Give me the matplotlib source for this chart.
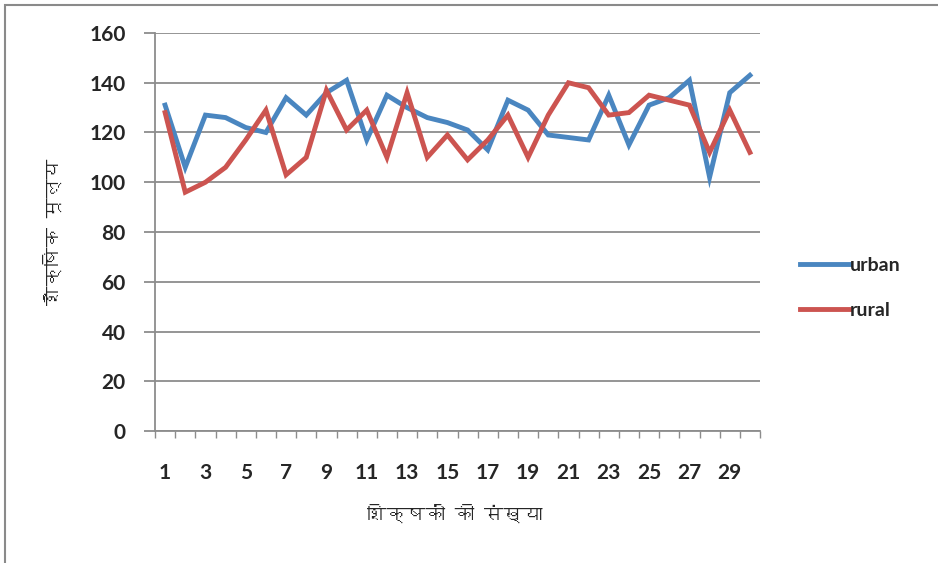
import numpy as np
import matplotlib
matplotlib.use("Agg")
import matplotlib.pyplot as plt
from matplotlib import font_manager
from matplotlib.ft2font import FT2Font
from matplotlib.patches import Rectangle
from matplotlib.lines import Line2D

teachers = list(range(1, 31))
urban = [131, 106, 127, 126, 122, 120, 134, 127, 136, 141,
         117, 135, 130, 126, 124, 121, 113, 133, 129, 119,
         118, 117, 135, 115, 131, 134, 141, 102, 136, 143]
rural = [128, 96, 100, 106, 117, 129, 103, 110, 137, 121,
         129, 110, 136, 110, 119, 109, 117, 127, 110, 127,
         140, 138, 127, 128, 135, 133, 131, 112, 129, 112]
tick_labels = [str(i) for i in range(1, 31, 2)]
x_title = "शिक्षकों की संख्या"
y_title = "शैक्षिक मूल्य"


def find_devanagari_font():
    # look for any installed font that has the Devanagari block
    for f in font_manager.fontManager.ttflist:
        try:
            ft = FT2Font(f.fname)
            if ft.get_char_index(0x0936) and ft.get_char_index(0x0915):
                return f.name
        except Exception:
            continue
    return None


dev_font = find_devanagari_font()
label_family = [dev_font, "DejaVu Sans"] if dev_font else ["DejaVu Sans"]

plt.rcParams["font.family"] = ["Lato", "DejaVu Sans"]

fig = plt.figure(figsize=(9.38, 5.63), dpi=100)
fig.patch.set_facecolor("white")
fig.patches.append(Rectangle((5 / 938, -0.01), 1.1, 1 - 5 / 563 + 0.01,
                             transform=fig.transFigure, fill=False,
                             edgecolor="#8a8a8a", linewidth=1.5))

ax = fig.add_axes([155 / 938, 132 / 563, 605 / 938, 398 / 563])

ax.plot(teachers, urban, color="#4A86C0", lw=3.5, solid_joinstyle="miter", label="urban")
ax.plot(teachers, rural, color="#CC5450", lw=3.5, solid_joinstyle="miter", label="rural")

ax.set_xlim(0.5, 30.5)
ax.set_ylim(0, 160)
ax.set_yticks(np.arange(0, 161, 20))
ax.yaxis.grid(True, color="#8c8c8c", lw=1.3)
ax.set_axisbelow(True)

ax.set_xticks(range(1, 31, 2))
ax.set_xticklabels(tick_labels)
ax.set_xticks(np.arange(0.5, 31, 1), minor=True)
ax.tick_params(axis="x", which="major", length=0, pad=23, labelsize=15, labelcolor="#262626")
ax.tick_params(axis="x", which="minor", length=5, width=1, color="#8c8c8c", direction="out")
ax.tick_params(axis="y", length=8, width=1.3, color="#8c8c8c", pad=13, labelsize=15,
               labelcolor="#262626")
for lab in ax.get_xticklabels() + ax.get_yticklabels():
    lab.set_fontweight("bold")

for s in ["top", "right"]:
    ax.spines[s].set_visible(False)
for s in ["left", "bottom"]:
    ax.spines[s].set_color("#8c8c8c")
    ax.spines[s].set_linewidth(1.3)

fig.text(455 / 938, 1 - 513 / 563, x_title, ha="center", va="center",
         fontsize=14, fontweight="bold", color="#262626", family=label_family)
fig.text(52 / 938, 1 - 232 / 563, y_title, ha="center", va="center", rotation=90,
         fontsize=14, fontweight="bold", color="#262626", family=label_family)

handles = [Line2D([], [], color="#4A86C0", lw=3.5), Line2D([], [], color="#CC5450", lw=3.5)]
leg = fig.legend(handles, ["urban", "rural"], loc="center left",
                 bbox_to_anchor=(782 / 938, 1 - 288 / 563), frameon=False,
                 fontsize=14, handlelength=2.6, handletextpad=0.0, labelspacing=1.45)
for t in leg.get_texts():
    t.set_fontweight("bold")
    t.set_color("#262626")

fig.savefig("out.png", dpi=100)
